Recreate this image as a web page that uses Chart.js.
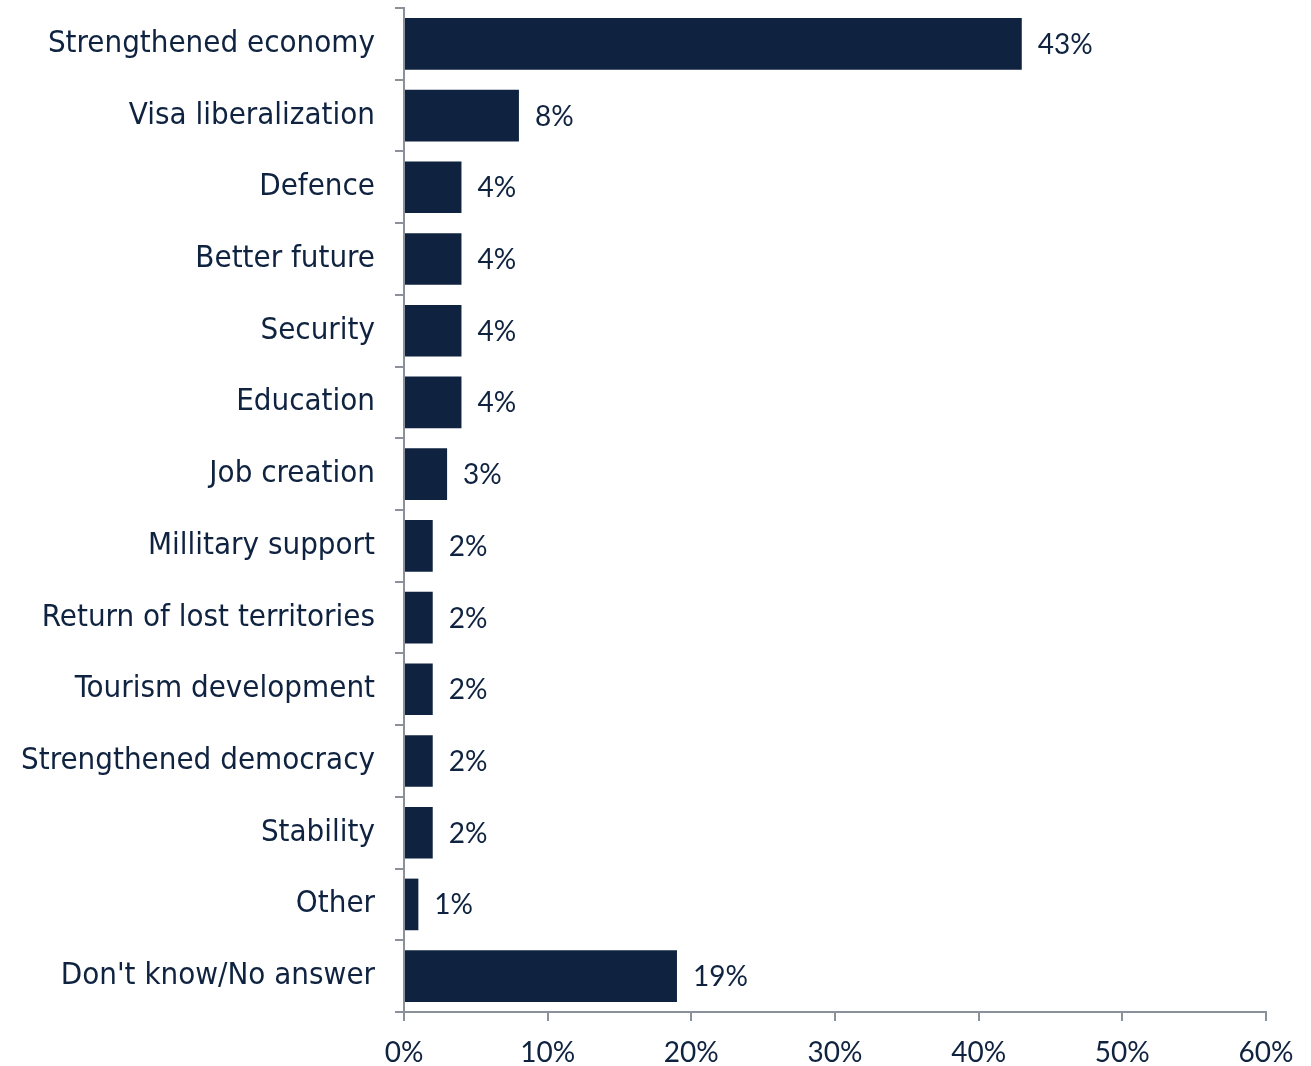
<!DOCTYPE html>
<html>
<head>
<meta charset="utf-8">
<script src="https://cdn.jsdelivr.net/npm/chart.js@4"></script>
<style>
  html, body { margin: 0; padding: 0; background: #fff; }
  #wrap { width: 1311px; height: 1066px; }
</style>
</head>
<body>
<div id="wrap"><canvas id="reasons-chart"></canvas></div>
<script>
var categories = ["Strengthened economy", "Visa liberalization", "Defence", "Better future",
  "Security", "Education", "Job creation", "Millitary support", "Return of lost territories",
  "Tourism development", "Strengthened democracy", "Stability", "Other", "Don't know/No answer"];
var shares = [43, 8, 4, 4, 4, 4, 3, 2, 2, 2, 2, 2, 1, 19];
var xTicks = [0, 10, 20, 30, 40, 50, 60];

var navy = "#0f2340";
var axisGray = "#8b919b";

// simple value labels next to each bar
var valueLabels = {
  id: "valueLabels",
  afterDatasetsDraw: function(chart) {
    var ctx = chart.ctx;
    var meta = chart.getDatasetMeta(0);
    ctx.save();
    ctx.font = "28px Lato";
    ctx.fillStyle = navy;
    ctx.textAlign = "left";
    ctx.textBaseline = "middle";
    meta.data.forEach(function(bar, i) {
      ctx.fillText(shares[i] + "%", bar.x + 16, bar.y + 1);
    });
    ctx.restore();
  }
};

document.addEventListener("DOMContentLoaded", function() {
  var canvas = document.getElementById("reasons-chart").getContext("2d");
  new Chart(canvas, {
    type: "bar",
    data: {
      labels: categories,
      datasets: [{
        data: shares,
        backgroundColor: navy,
        borderWidth: 0,
        barPercentage: 0.72,
        categoryPercentage: 1
      }]
    },
    options: {
      indexAxis: "y",
      responsive: true,
      maintainAspectRatio: false,
      animation: false,
      layout: { padding: { top: 8, right: 45, left: 0, bottom: 0 } },
      scales: {
        x: {
          min: 0,
          max: 60,
          afterBuildTicks: function(scale) {
            scale.ticks = xTicks.map(function(v) { return { value: v }; });
          },
          afterFit: function(scale) { scale.height = 54; },
          border: { color: axisGray, width: 2 },
          grid: { drawOnChartArea: false, tickLength: 9, color: axisGray, lineWidth: 2 },
          ticks: {
            font: { family: "Lato", size: 28 },
            color: navy,
            padding: 15,
            maxRotation: 0,
            callback: function(v) { return v + "%"; }
          }
        },
        y: {
          afterFit: function(scale) {
            scale.width = 404;
            scale.paddingTop = 0;
            scale.paddingBottom = 0;
          },
          border: { color: axisGray, width: 2 },
          grid: { drawOnChartArea: false, tickLength: 9, color: axisGray, lineWidth: 2, offset: true },
          ticks: {
            font: { family: "'DejaVu Sans Condensed', 'DejaVu Sans'", size: 31 },
            color: navy,
            padding: 20
          }
        }
      },
      plugins: {
        legend: { display: false },
        tooltip: { enabled: false }
      }
    },
    plugins: [valueLabels]
  });
});
</script>
</body>
</html>
